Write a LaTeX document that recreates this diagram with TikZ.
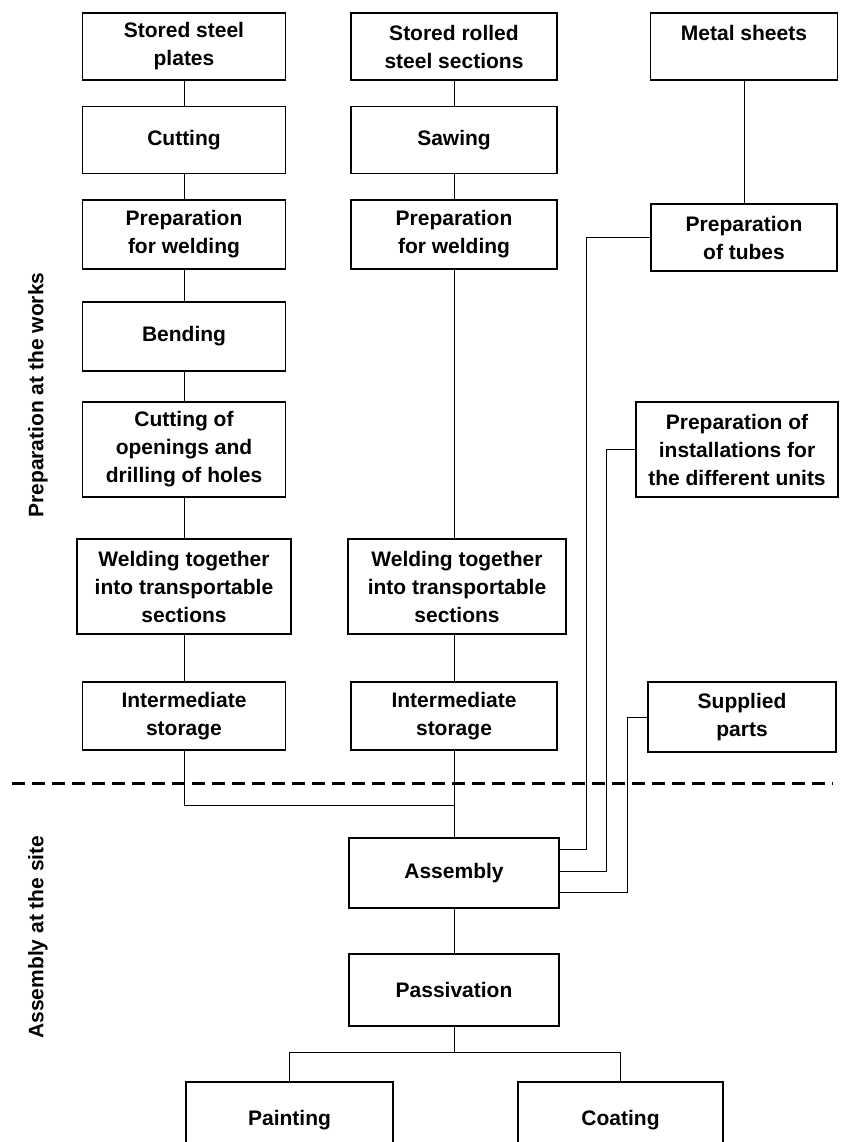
\documentclass[tikz,border=0pt]{standalone}
\usepackage{fontspec}
\setmainfont{Liberation Sans}
\usepackage{tikz}

\tikzset{
    stepbox/.style={draw, line width=1.4pt, align=center, inner sep=0pt,
        minimum width=203pt, minimum height=67pt,
        font=\bfseries\fontsize{21}{28}\selectfont},
    link/.style={line width=1pt},
    divider/.style={line width=3pt, dash pattern=on 13pt off 7pt},
    phase/.style={rotate=90, font=\bfseries\fontsize{21}{26}\selectfont}
}

\begin{document}
\begin{tikzpicture}[x=1pt, y=-1pt]
        \useasboundingbox (0,0) rectangle (845,1142);

        % plates
        \node[stepbox] (plates) at (184,46.5) {Stored steel\\plates};
        \node[stepbox] (cut) at (184,140) {Cutting};
        \node[stepbox, minimum height=69pt] (prepA) at (184,234.5) {Preparation\\for welding};
        \node[stepbox, minimum height=69pt] (bend) at (184,336.5) {Bending};
        \node[stepbox, minimum height=95pt] (open) at (184,449.5) {Cutting of\\openings and\\drilling of holes};
        \node[stepbox, minimum height=95pt, minimum width=214pt] (weldA) at (184,586.5) {Welding together\\into transportable\\sections};
        \node[stepbox, minimum height=68pt] (storeA) at (184,716) {Intermediate\\storage};

        % rolled sections
        \node[stepbox, minimum width=206pt] (rolled) at (454,46.5) {Stored rolled\\steel sections};
        \node[stepbox, minimum width=206pt] (saw) at (454,140) {Sawing};
        \node[stepbox, minimum width=206pt, minimum height=69pt] (prepB) at (454,234.5) {Preparation\\for welding};
        \node[stepbox, minimum width=218pt, minimum height=95pt] (weldB) at (457,586.5) {Welding together\\into transportable\\sections};
        \node[stepbox, minimum width=206pt, minimum height=68pt] (storeB) at (454,716) {Intermediate\\storage};

        % supplies
        \node[stepbox, minimum width=187pt] (sheets) at (744,46.5) {Metal sheets\\\mbox{}};
        \node[stepbox, minimum width=186pt] (tubes) at (744,237.5) {Preparation\\of tubes};
        \node[stepbox, minimum width=202pt, minimum height=95pt] (install) at (737,449.5) {Preparation of\\installations for\\the different units};
        \node[stepbox, minimum width=188pt, minimum height=70pt] (parts) at (742,717) {Supplied\\parts};

        % site
        \node[stepbox, minimum width=210pt, minimum height=70pt] (asm) at (454,873) {Assembly};
        \node[stepbox, minimum width=210pt, minimum height=72pt] (pass) at (454,990) {Passivation};
        \node[stepbox, minimum width=207pt, minimum height=76pt] (paint) at (289.5,1120) {Painting};
        \node[stepbox, minimum width=205pt, minimum height=76pt] (coat) at (620.5,1120) {Coating};

        \node[phase] (works) at (38,395) {Preparation at the works};
        \node[phase] (site) at (38,937) {Assembly at the site};

        \draw[divider] (12,783) -- (833,783);

        \draw[link] (plates) -- (cut);
        \draw[link] (cut) -- (prepA);
        \draw[link] (prepA) -- (bend);
        \draw[link] (bend) -- (open);
        \draw[link] (open) -- (weldA);
        \draw[link] (weldA) -- (storeA);

        \draw[link] (rolled) -- (saw);
        \draw[link] (saw) -- (prepB);
        \draw[link] (prepB.south) -- (prepB.south |- weldB.north);
        \draw[link] (weldB.south -| storeB) -- (storeB);
        \draw[link] (storeB) -- (asm);
        \coordinate (join) at (454,805);
        \draw[link] (storeA.south) |- (join);

        \draw[link] (sheets) -- (tubes);
        \coordinate (tubesIn) at (586,849);
        \coordinate (installIn) at (606,871);
        \coordinate (partsIn) at (627,892);
        \draw[link] (tubes.west) -| (tubesIn) -- (tubesIn -| asm.east);
        \draw[link] (install.west) -| (installIn) -- (installIn -| asm.east);
        \draw[link] (parts.west) -| (partsIn) -- (partsIn -| asm.east);

        \draw[link] (pass) -- (asm);
        \coordinate (split) at (454,1052);
        \draw[link] (pass.south) -- (split);
        \draw[link] (paint.north) |- (split) -| (coat.north);
    \end{tikzpicture}
\end{document}
